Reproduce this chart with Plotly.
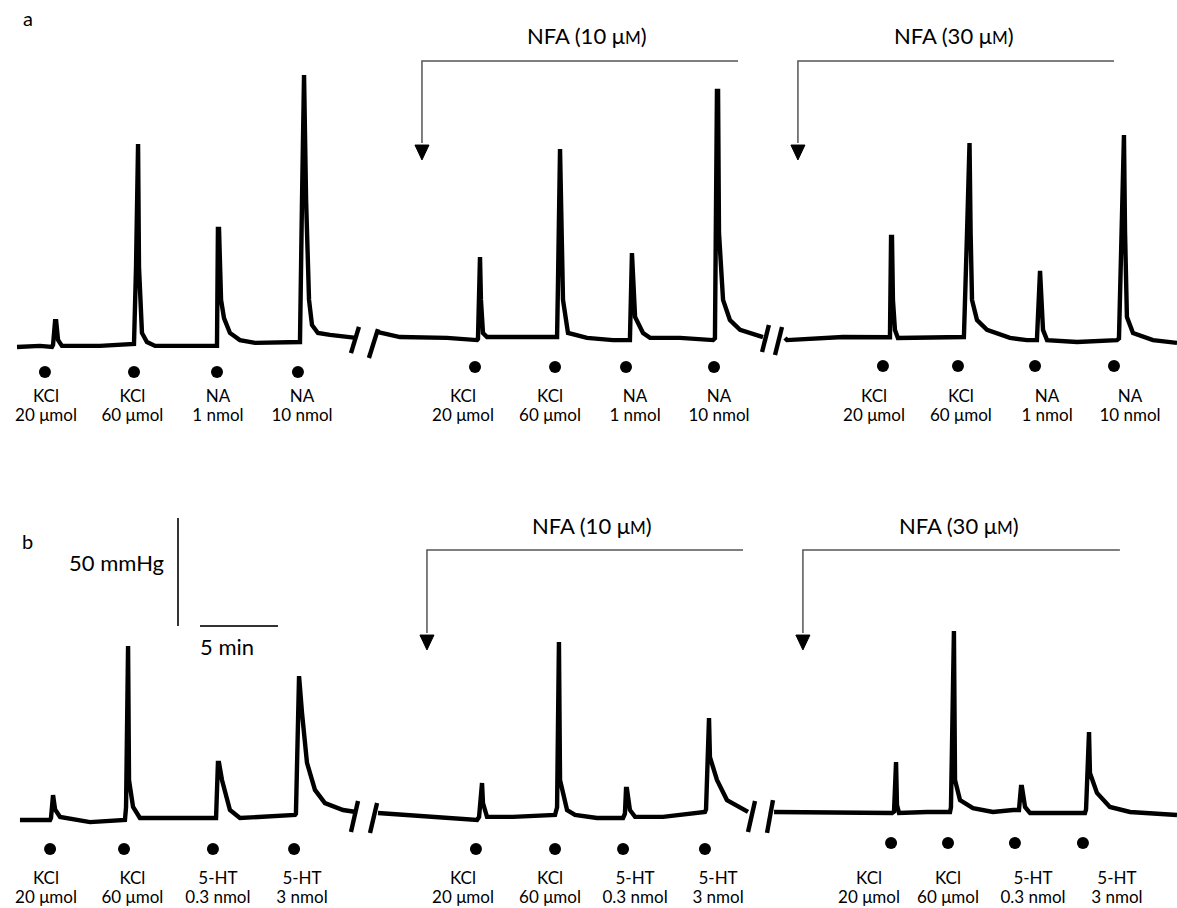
import plotly.graph_objects as go

# ---------------- DATA (time in min, perfusion pressure change in mmHg) ----------------
# Panel a: KCl / noradrenaline (NA); segments: control, NFA 10 uM, NFA 30 uM
a1_t = [1.09, 2.56, 3.33, 3.40, 3.53, 3.60, 3.72, 3.97, 6.41, 8.53, 8.59, 8.72, 8.78, 8.85, 8.91, 9.10, 9.42, 9.94,
        12.82, 13.91, 13.97, 14.04, 14.17, 14.36, 14.74, 15.38, 16.35, 19.04, 19.23, 19.36, 19.42, 19.49, 19.62,
        19.81, 20.00, 20.38, 21.15, 22.44, 22.82]
a1_p = [0.0, 0.5, 0.0, 1.0, 12.0, 12.0, 3.2, 0.5, 0.5, 0.9, 1.4, 37.0, 94.0, 94.0, 37.0, 6.5, 2.3, 0.5,
        0.5, 0.5, 54.6, 54.6, 21.8, 13.4, 6.5, 3.2, 1.9, 2.3, 2.3, 68.1, 125.9, 125.9, 68.1,
        21.8, 10.2, 6.5, 5.6, 4.6, 4.2]

a2_t = [24.23, 25.64, 28.65, 30.58, 30.64, 30.71, 30.77, 30.83, 30.96, 31.22, 32.88, 35.71, 35.77, 35.83, 35.90,
        36.09, 36.41, 37.63, 39.29, 40.38, 40.45, 40.51, 40.71, 41.22, 41.67, 43.59, 45.71, 45.83, 45.96, 46.03,
        46.09, 46.35, 46.79, 47.44, 48.91]
a2_p = [6.9, 4.6, 4.2, 3.2, 3.7, 41.7, 41.7, 21.8, 6.5, 4.6, 4.6, 4.6, 30.0, 91.7, 91.7,
        21.8, 6.5, 4.2, 3.2, 3.2, 43.5, 43.5, 13.9, 6.5, 4.2, 4.2, 3.2, 4.0, 118.5, 118.5,
        52.8, 21.8, 12.5, 7.9, 4.6]

a3_t = [50.32, 50.45, 54.04, 56.86, 57.05, 57.12, 57.18, 57.24, 57.37, 57.56, 59.42, 61.54, 61.79, 61.99, 62.09,
        62.15, 62.22, 62.31, 62.63, 63.27, 64.74, 65.83, 66.47, 66.60, 66.67, 66.86, 67.12, 69.04, 71.60, 71.73,
        71.86, 71.99, 72.05, 72.12, 72.24, 72.63, 73.91, 75.45]
a3_p = [4.2, 3.2, 4.6, 4.2, 4.5, 50.9, 50.9, 21.8, 7.9, 4.2, 4.2, 4.6, 4.6, 52.8, 94.4,
        94.4, 52.8, 21.8, 12.5, 7.9, 4.2, 3.2, 3.2, 35.2, 35.2, 7.9, 3.2, 2.3, 3.2, 4.0,
        52.8, 98.1, 98.1, 52.8, 13.9, 6.5, 3.2, 1.9]

# Panel b: KCl / 5-HT
b1_t = [1.28, 3.21, 3.27, 3.33, 3.40, 3.53, 3.85, 5.77, 8.01, 8.08, 8.14, 8.21, 8.27, 8.53, 8.97, 10.90, 13.46,
        13.85, 13.97, 14.04, 14.23, 14.74, 15.38, 17.31, 18.91, 18.97, 19.10, 19.17, 19.36, 19.68, 20.19, 20.83,
        21.99, 22.82]
b1_p = [-0.9, -0.9, 0.0, 10.6, 10.6, 4.0, 0.5, -1.9, -0.9, 5.0, 79.6, 79.6, 17.6, 5.1, 0.0, 0.0, 0.0,
        0.0, 25.5, 25.5, 17.6, 3.7, 0.0, 0.9, 1.4, 2.0, 65.7, 65.7, 48.6, 25.5, 13.0, 6.9,
        3.7, 2.8]

b2_t = [24.23, 27.56, 30.58, 30.71, 30.83, 30.90, 30.96, 31.22, 32.88, 35.58, 35.71, 35.77, 35.83, 35.90, 36.35,
        36.86, 38.27, 39.94, 40.06, 40.13, 40.19, 40.38, 40.71, 42.50, 45.19, 45.26, 45.38, 45.45, 45.51, 45.96,
        46.60, 47.44, 47.95]
b2_p = [2.3, 0.5, -0.9, 0.5, 16.2, 16.2, 6.9, 0.5, 0.5, 1.4, 5.0, 81.5, 81.5, 17.6, 3.7,
        1.4, 0.0, 0.0, 2.0, 13.4, 13.4, 3.7, 0.5, 0.5, 2.8, 4.0, 46.3, 46.3, 28.2, 17.6,
        8.3, 4.6, 2.8]

b3_t = [49.62, 50.83, 54.04, 57.18, 57.31, 57.37, 57.44, 57.50, 57.63, 59.42, 60.90, 60.96, 61.09, 61.15, 61.22,
        61.54, 62.37, 63.65, 64.94, 65.32, 65.45, 65.51, 65.71, 66.03, 67.95, 69.55, 69.62, 69.74, 69.81, 69.87,
        70.32, 71.15, 72.44, 75.45]
b3_p = [2.8, 2.8, 2.3, 2.3, 3.0, 25.9, 25.9, 6.0, 2.3, 2.8, 2.8, 5.0, 86.6, 86.6, 17.6,
        8.3, 4.6, 2.8, 3.7, 3.7, 14.4, 14.4, 5.1, 2.3, 2.3, 2.3, 4.0, 39.8, 39.8, 20.8,
        11.6, 5.1, 2.8, 1.4]

# Injection times (dots)
inj_a_t = [2.88, 8.59, 13.91, 19.10, 30.45, 35.58, 40.13, 45.77, 56.60, 61.41, 66.35, 71.41]
inj_b_t = [3.21, 7.95, 13.65, 18.85, 30.51, 35.58, 39.94, 45.19, 57.12, 60.77, 65.06, 69.42]

# Labels
agents_a = ["KCl", "KCl", "NA", "NA"] * 3
doses_a = ["20 μmol", "60 μmol", "1 nmol", "10 nmol"] * 3
agents_b = ["KCl", "KCl", "5-HT", "5-HT"] * 3
doses_b = ["20 μmol", "60 μmol", "0.3 nmol", "3 nmol"] * 3
nfa_labels = ["NFA (10 μ<span style='font-size:17px'>M</span>)",
              "NFA (30 μ<span style='font-size:17px'>M</span>)"]

# ---------------- LAYOUT / POSITIONS ----------------
lab_a_t = [2.95, 8.49, 13.97, 19.36, 29.68, 35.26, 40.71, 46.09, 56.03, 61.60, 67.12, 72.44]
lab_b_t = [2.95, 8.49, 13.97, 19.36, 29.68, 35.26, 40.71, 46.03, 55.71, 60.77, 66.22, 71.60]
dot_a_p = [-11.6] * 4 + [-9.3] * 4 + [-8.8] * 4
dot_b_p = [-14.4] * 8 + [-11.6] * 4

FONT = "Lato"
LW = 4.4
fig = go.Figure()

def trace(t, p, yax):
    fig.add_trace(go.Scatter(x=t, y=p, mode="lines", yaxis=yax,
                             line=dict(color="black", width=LW, shape="linear"),
                             hoverinfo="skip", showlegend=False))

for t, p in [(a1_t, a1_p), (a2_t, a2_p), (a3_t, a3_p)]:
    trace(t, p, "y")
for t, p in [(b1_t, b1_p), (b2_t, b2_p), (b3_t, b3_p)]:
    trace(t, p, "y2")

fig.add_trace(go.Scatter(x=inj_a_t, y=dot_a_p, mode="markers", yaxis="y",
                         marker=dict(color="black", size=12), hoverinfo="skip", showlegend=False))
fig.add_trace(go.Scatter(x=inj_b_t, y=dot_b_p, mode="markers", yaxis="y2",
                         marker=dict(color="black", size=12), hoverinfo="skip", showlegend=False))

tf = dict(family=FONT, size=17, color="black")
fig.add_trace(go.Scatter(x=lab_a_t, y=[-23.3] * 12, mode="text", text=agents_a, yaxis="y",
                         textfont=tf, hoverinfo="skip", showlegend=False))
fig.add_trace(go.Scatter(x=lab_a_t, y=[-32.4] * 12, mode="text", text=doses_a, yaxis="y",
                         textfont=tf, hoverinfo="skip", showlegend=False))
fig.add_trace(go.Scatter(x=lab_b_t, y=[-28.4] * 12, mode="text", text=agents_b, yaxis="y2",
                         textfont=tf, hoverinfo="skip", showlegend=False))
fig.add_trace(go.Scatter(x=lab_b_t, y=[-37.5] * 12, mode="text", text=doses_b, yaxis="y2",
                         textfont=tf, hoverinfo="skip", showlegend=False))

shapes = []
# break marks
breaks = [("y", [(23.01, 9.3, 22.50, -2.8), (24.23, 8.3, 23.65, -5.1),
                 (49.29, 10.2, 48.85, -2.3), (50.13, 9.3, 49.68, -3.7)]),
          ("y2", [(22.95, 7.9, 22.50, -6.5), (24.17, 6.9, 23.72, -6.9),
                  (48.40, 7.9, 47.95, -6.5), (49.55, 8.3, 49.17, -6.9)])]
for yref, segs in breaks:
    for x0, y0, x1, y1 in segs:
        shapes.append(dict(type="line", xref="x", yref=yref, x0=x0, y0=y0, x1=x1, y1=y1,
                           line=dict(color="black", width=LW)))

# NFA brackets with arrows
brackets = [("y", 27.05, 47.31, 132.4, 93.5, 86.6), ("y", 51.15, 71.41, 132.4, 93.5, 86.6),
            ("y2", 27.37, 47.63, 124.1, 84.7, 77.8), ("y2", 51.47, 71.79, 124.1, 84.7, 77.8)]
for yref, x0, x1, yl, yb, ytip in brackets:
    shapes.append(dict(type="path", xref="x", yref=yref,
                       path=f"M {x1},{yl} L {x0},{yl} L {x0},{yb + 1}",
                       line=dict(color="#555555", width=1.5)))
    shapes.append(dict(type="path", xref="x", yref=yref,
                       path=f"M {x0 - 0.45},{yb} L {x0 + 0.45},{yb} L {x0},{ytip} Z",
                       fillcolor="black", line=dict(color="black", width=1)))

# scale bars (50 mmHg, 5 min) in panel b
shapes.append(dict(type="line", xref="x", yref="y2", x0=11.41, x1=11.41, y0=88.9, y1=138.9,
                   line=dict(color="#333333", width=2)))
shapes.append(dict(type="line", xref="x", yref="y2", x0=12.82, x1=17.82, y0=88.9, y1=88.9,
                   line=dict(color="#333333", width=2)))

ann = []
big = dict(family=FONT, size=22, color="black")
ann.append(dict(x=37.63, y=144.4, xref="x", yref="y", text=nfa_labels[0], showarrow=False, font=big))
ann.append(dict(x=61.15, y=144.4, xref="x", yref="y", text=nfa_labels[1], showarrow=False, font=big))
ann.append(dict(x=37.95, y=135.2, xref="x", yref="y2", text=nfa_labels[0], showarrow=False, font=big))
ann.append(dict(x=61.47, y=135.2, xref="x", yref="y2", text=nfa_labels[1], showarrow=False, font=big))
ann.append(dict(x=7.47, y=118.1, xref="x", yref="y2", text="50 mmHg", showarrow=False, font=big))
ann.append(dict(x=14.52, y=79.2, xref="x", yref="y2", text="5 min", showarrow=False, font=big))
ann.append(dict(x=1.79, y=152.3, xref="x", yref="y", text="a", showarrow=False,
                font=dict(family=FONT, size=20, color="black")))
ann.append(dict(x=1.79, y=128.2, xref="x", yref="y2", text="b", showarrow=False,
                font=dict(family=FONT, size=20, color="black")))

fig.update_layout(
    width=1177, height=908, autosize=False,
    margin=dict(l=0, r=0, t=0, b=0),
    paper_bgcolor="white", plot_bgcolor="white",
    xaxis=dict(range=[0, 75.45], visible=False, fixedrange=True),
    yaxis=dict(domain=[0.5, 1.0], range=[-49.54, 160.65], visible=False, anchor="x", fixedrange=True),
    yaxis2=dict(domain=[0.0, 0.5], range=[-41.67, 168.52], visible=False, anchor="x", fixedrange=True),
    shapes=shapes, annotations=ann, showlegend=False,
)

fig.write_html("out.html", config={"displayModeBar": False, "staticPlot": True},
               post_script="document.body.style.margin='0';document.body.style.overflow='hidden';")
